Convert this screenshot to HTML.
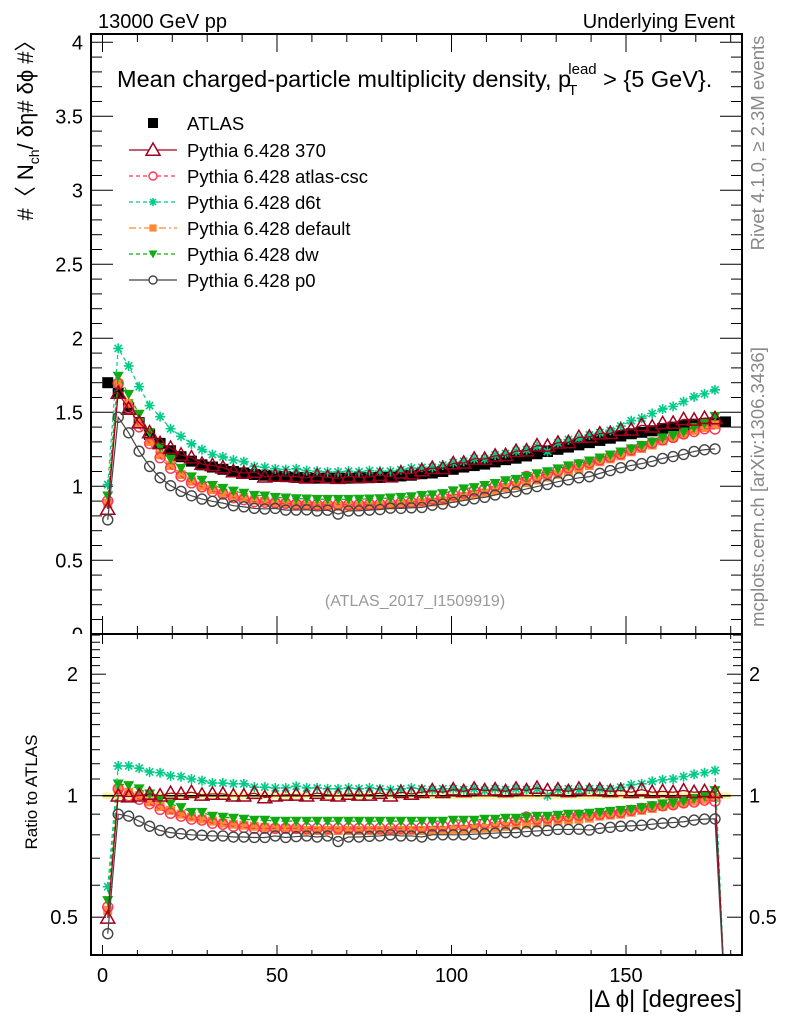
<!DOCTYPE html>
<html><head><meta charset="utf-8"><title>Mean charged-particle multiplicity density</title>
<style>
html,body{margin:0;padding:0;background:#fff;}
svg{display:block;font-family:"Liberation Sans",sans-serif;}
</style></head>
<body>
<svg id="chart" width="786" height="1024" viewBox="0 0 786 1024" xmlns="http://www.w3.org/2000/svg">
<defs>
<clipPath id="clipTop"><rect x="91" y="34" width="651" height="600"/></clipPath>
<clipPath id="clipBot"><rect x="91" y="635" width="651" height="320"/></clipPath>
<clipPath id="clipLabels"><rect x="0" y="0" width="91" height="634"/></clipPath>
</defs>
<rect x="0" y="0" width="786" height="1024" fill="#fff"/>
<text x="98" y="28" font-size="20">13000 GeV pp</text>
<text x="735" y="28" font-size="20" text-anchor="end">Underlying Event</text>
<text x="117" y="87" font-size="23.5">Mean charged-particle multiplicity density, p<tspan font-size="15" dx="-3" dy="8">T</tspan><tspan font-size="15" dx="-9" dy="-21">lead</tspan><tspan dy="13"> &gt; {5 GeV}.</tspan></text>
<text transform="translate(33,125) rotate(-90)" font-size="22" text-anchor="middle">#〈 N<tspan font-size="14" dy="6">ch</tspan><tspan dy="-6">/ δη# δϕ #〉</tspan></text>
<text transform="translate(37,792) rotate(-90)" font-size="17" text-anchor="middle">Ratio to ATLAS</text>
<text x="742" y="1007" font-size="24" text-anchor="end">|Δ ϕ| [degrees]</text>
<text transform="translate(764,143) rotate(-90)" font-size="18.5" fill="#888" text-anchor="middle">Rivet 4.1.0, ≥ 2.3M events</text>
<text transform="translate(764,487) rotate(-90)" font-size="18.5" fill="#888" text-anchor="middle">mcplots.cern.ch [arXiv:1306.3436]</text>
<text x="415" y="606" font-size="16" fill="#999" text-anchor="middle">(ATLAS_2017_I1509919)</text>
<g id="axes"></g>
<g id="axesClipped" clip-path="url(#clipLabels)"></g>
<g id="ratioBand" clip-path="url(#clipBot)"></g>
<g id="topMarks" clip-path="url(#clipTop)"></g>
<g id="botMarks" clip-path="url(#clipBot)"></g>
<g id="legend"></g>
<rect x="91" y="34" width="651" height="600" fill="none" stroke="#000" stroke-width="2"/>
<rect x="91" y="634" width="651" height="321" fill="none" stroke="#000" stroke-width="2"/>
</svg>
<script>
const binCenters=[1.5,4.5,7.5,10.5,13.5,16.5,19.5,22.5,25.5,28.5,31.5,34.5,37.5,40.5,43.5,46.5,49.5,52.5,55.5,58.5,61.5,64.5,67.5,70.5,73.5,76.5,79.5,82.5,85.5,88.5,91.5,94.5,97.5,100.5,103.5,106.5,109.5,112.5,115.5,118.5,121.5,124.5,127.5,130.5,133.5,136.5,139.5,142.5,145.5,148.5,151.5,154.5,157.5,160.5,163.5,166.5,169.5,172.5,175.5,178.5];
const atlasValues=[1.70,1.63,1.53,1.43,1.35,1.29,1.24,1.20,1.17,1.145,1.13,1.115,1.10,1.09,1.08,1.075,1.07,1.065,1.06,1.058,1.055,1.055,1.055,1.055,1.056,1.058,1.06,1.065,1.07,1.075,1.085,1.09,1.10,1.115,1.13,1.14,1.15,1.165,1.18,1.19,1.205,1.22,1.235,1.25,1.265,1.28,1.295,1.31,1.325,1.34,1.355,1.365,1.375,1.39,1.40,1.41,1.42,1.425,1.43,1.435];
const ratio370=[0.498,1.0,0.995,1.0,1.01,1.0,1.015,1.01,1.02,1.005,1.01,1.01,1.0,1.0,1.015,0.99,1.0,1.005,1.005,1.0,1.015,1.005,1.0,1.01,1.005,1.005,1.015,1.0,1.02,1.01,1.02,1.03,1.02,1.035,1.025,1.04,1.03,1.035,1.025,1.04,1.03,1.045,1.03,1.035,1.025,1.04,1.03,1.035,1.025,1.03,1.02,1.035,1.02,1.025,1.02,1.03,1.02,1.025,1.02];
const ratioCsc=[0.53,1.04,1.0,0.98,0.955,0.925,0.905,0.89,0.875,0.87,0.855,0.85,0.84,0.835,0.83,0.83,0.83,0.83,0.83,0.83,0.83,0.83,0.83,0.83,0.83,0.83,0.83,0.83,0.83,0.83,0.835,0.84,0.84,0.845,0.845,0.85,0.855,0.86,0.865,0.87,0.885,0.875,0.88,0.885,0.89,0.895,0.895,0.9,0.905,0.91,0.92,0.93,0.94,0.945,0.95,0.96,0.965,0.975,0.97];
const ratioD6t=[0.595,1.185,1.185,1.17,1.145,1.14,1.12,1.115,1.10,1.09,1.075,1.075,1.07,1.07,1.05,1.05,1.045,1.045,1.055,1.045,1.045,1.04,1.04,1.045,1.04,1.045,1.04,1.035,1.04,1.045,1.04,1.035,1.04,1.04,1.035,1.04,1.03,1.04,1.035,1.04,1.035,1.04,1.0,1.035,1.04,1.035,1.04,1.04,1.04,1.05,1.065,1.07,1.085,1.095,1.10,1.115,1.13,1.14,1.155];
const ratioDefault=[0.52,1.04,1.02,1.0,0.965,0.94,0.92,0.9,0.885,0.875,0.865,0.855,0.85,0.845,0.84,0.835,0.83,0.83,0.825,0.82,0.82,0.82,0.82,0.82,0.82,0.82,0.82,0.82,0.82,0.82,0.82,0.82,0.82,0.825,0.825,0.83,0.83,0.835,0.84,0.845,0.85,0.855,0.86,0.865,0.87,0.875,0.88,0.89,0.895,0.9,0.91,0.92,0.93,0.94,0.95,0.96,0.97,0.98,0.99];
const ratioDw=[0.55,1.07,1.06,1.04,1.01,0.98,0.955,0.935,0.91,0.91,0.89,0.885,0.88,0.875,0.87,0.87,0.865,0.865,0.865,0.865,0.865,0.865,0.865,0.865,0.865,0.865,0.865,0.865,0.865,0.865,0.865,0.865,0.865,0.87,0.87,0.87,0.875,0.875,0.88,0.88,0.885,0.89,0.89,0.895,0.9,0.9,0.905,0.91,0.915,0.92,0.925,0.935,0.945,0.955,0.96,0.97,0.985,1.0,1.03];
const ratioP0=[0.455,0.90,0.89,0.865,0.84,0.82,0.81,0.805,0.80,0.798,0.795,0.795,0.79,0.79,0.788,0.788,0.795,0.788,0.792,0.795,0.79,0.795,0.77,0.79,0.79,0.793,0.795,0.80,0.795,0.795,0.79,0.80,0.80,0.80,0.80,0.803,0.805,0.808,0.81,0.81,0.815,0.818,0.82,0.825,0.825,0.826,0.822,0.83,0.835,0.84,0.842,0.845,0.85,0.855,0.858,0.862,0.87,0.875,0.876];
const seriesNames=["Pythia 6.428 370","Pythia 6.428 atlas-csc","Pythia 6.428 d6t","Pythia 6.428 default","Pythia 6.428 dw","Pythia 6.428 p0"];
const yTickLabels=["0","0.5","1","1.5","2","2.5","3","3.5","4"];
const xTickLabels=["0","50","100","150"];
const ratioTickLabels=["0.5","1","2"];

const NS="http://www.w3.org/2000/svg";
const X0=102.5,XS=3.49;
function xs(v){return X0+v*XS;}
function ys(v){return 42.3+(4-v)*148;}
function yr(r){return 795.7-Math.log2(r)*121.5;}
function mk(tag,attrs,parent){const e=document.createElementNS(NS,tag);for(const k in attrs)e.setAttribute(k,attrs[k]);parent.appendChild(e);return e;}

const axesG=document.getElementById('axes');
const axesC=document.getElementById('axesClipped');
for(let i=0;i<=40;i++){const v=i/10;const y=ys(v);const major=i%5===0;const L=major?22:11;
 const t1=mk('line',{x1:91,x2:91+L,y1:y,y2:y,stroke:'#000','stroke-width':1},axesG);
 
 
 const t2=mk('line',{x1:742,x2:742-L,y1:y,y2:y,stroke:'#000','stroke-width':1},axesG);
 
 
}
yTickLabels.forEach(function(s){const v=parseFloat(s);const t=mk('text',{x:83,y:ys(v)+7,'font-size':20,'text-anchor':'end'},axesC);t.textContent=s;
 
 
});
for(let v=0;v<=180;v+=10){const major=v%50===0;
 const x=xs(v);
 const L1=major?18:8;
 const a=mk('line',{x1:x,x2:x,y1:34,y2:34+L1,stroke:'#000','stroke-width':1},axesG);
 
 
 const b=mk('line',{x1:x,x2:x,y1:634,y2:634-L1,stroke:'#000','stroke-width':1},axesG);
 
 
 const L2=major?10:5;
 const c=mk('line',{x1:x,x2:x,y1:634,y2:634+L2,stroke:'#000','stroke-width':1},axesG);
 
 
 const d=mk('line',{x1:x,x2:x,y1:955,y2:955-L2,stroke:'#000','stroke-width':1},axesG);
 
 
}
xTickLabels.forEach(function(s){const t=mk('text',{x:xs(parseFloat(s)),y:982,'font-size':20,'text-anchor':'middle'},axesG);t.textContent=s;
 
 
});
const rticks=[0.4,0.5,0.6,0.7,0.8,0.9,1,1.1,1.2,1.3,1.4,1.5,1.6,1.7,1.8,1.9,2,2.1,2.2,2.3,2.4,2.5];
rticks.forEach(function(r){const y=yr(r);if(y<635||y>955)return;const major=(r===0.5||r===1||r===2);const L=major?15:9;
 const a=mk('line',{x1:91,x2:91+L,y1:y,y2:y,stroke:'#000','stroke-width':1},axesG);
 
 
 const b=mk('line',{x1:742,x2:742-L,y1:y,y2:y,stroke:'#000','stroke-width':1},axesG);
 
 
});
ratioTickLabels.forEach(function(s){const r=parseFloat(s);
 const t=mk('text',{x:78,y:yr(r)+7,'font-size':20,'text-anchor':'end'},axesG);t.textContent=s;
 
 
 const t2=mk('text',{x:749,y:yr(r)+7,'font-size':20},axesG);t2.textContent=s;
 
 
});
const bandG=document.getElementById('ratioBand');
const br=mk('rect',{x:xs(0),y:yr(1.018),width:xs(180)-xs(0),height:yr(0.982)-yr(1.018),fill:'#f5f57a',opacity:0.8},bandG);


const bl=mk('line',{x1:xs(0),x2:xs(180),y1:yr(1),y2:yr(1),stroke:'#000','stroke-width':1.5},bandG);



function marker(type,cx,cy,color,parent,s){
 let e;
 if(type==='square'){e=mk('rect',{x:cx-s,y:cy-s,width:2*s,height:2*s,fill:color},parent);}
 else if(type==='tri'){e=mk('polygon',{points:(cx)+','+(cy-s)+' '+(cx-s)+','+(cy+s*0.75)+' '+(cx+s)+','+(cy+s*0.75),fill:'#fff','fill-opacity':0,stroke:color,'stroke-width':1.5},parent);}
 else if(type==='circle'){e=mk('circle',{cx:cx,cy:cy,r:s,fill:'none',stroke:color,'stroke-width':1.4},parent);}
 else if(type==='tridown'){e=mk('polygon',{points:(cx-s)+','+(cy-s*0.8)+' '+(cx+s)+','+(cy-s*0.8)+' '+cx+','+(cy+s),fill:color},parent);}
 else if(type==='star'){const d=s*0.72;e=mk('path',{d:'M'+(cx-s)+' '+cy+'H'+(cx+s)+'M'+cx+' '+(cy-s)+'V'+(cy+s)+'M'+(cx-d)+' '+(cy-d)+'L'+(cx+d)+' '+(cy+d)+'M'+(cx-d)+' '+(cy+d)+'L'+(cx+d)+' '+(cy-d),stroke:color,'stroke-width':1.6,fill:'none'},parent);}
 return e;
}
const styles=[
 {name:'pythia-370',color:'#a0001c',dash:'',m:'tri',s:7,ratio:ratio370},
 {name:'pythia-atlas-csc',color:'#ff3355',dash:'4,3',m:'circle',s:5,ratio:ratioCsc},
 {name:'pythia-d6t',color:'#00cc88',dash:'4,3',m:'star',s:5,ratio:ratioD6t},
 {name:'pythia-default',color:'#ff8833',dash:'7,3,2,3',m:'square',s:4.5,ratio:ratioDefault},
 {name:'pythia-dw',color:'#11aa11',dash:'4,3',m:'tridown',s:5.5,ratio:ratioDw},
 {name:'pythia-p0',color:'#444444',dash:'',m:'circle',s:5,ratio:ratioP0}
];
const topGroup=document.getElementById('topMarks');
const botGroup=document.getElementById('botMarks');
const ag=mk('g',{},topGroup);


atlasValues.forEach(function(v,i){const e=marker('square',xs(binCenters[i]),ys(v),'#000',ag,5.5);
 
 
});
const drawOrder=[3,1,4,2,0,5];
drawOrder.forEach(function(k){const st=styles[k];
 const gt=mk('g',{},topGroup);
 
 
 const gb=mk('g',{},botGroup);
 
 
 const ptsT=[],ptsB=[];
 st.ratio.forEach(function(r,i){const x=xs(binCenters[i]);ptsT.push([x,ys(r*atlasValues[i])]);ptsB.push([x,yr(r)]);});
 const last=st.ratio.length;
 const lt=mk('polyline',{points:ptsT.map(p=>p.join(',')).join(' '),fill:'none',stroke:st.color,'stroke-width':1.2,'stroke-dasharray':st.dash},gt);
 
 
 const pb=ptsB.slice();pb.push([xs(binCenters[last]),yr(0.3)]);
 const lb=mk('polyline',{points:pb.map(p=>p.join(',')).join(' '),fill:'none',stroke:st.color,'stroke-width':1.2,'stroke-dasharray':st.dash},gb);
 
 
 ptsT.forEach(function(p){const e=marker(st.m,p[0],p[1],st.color,gt,st.s);
  
  });
 ptsB.forEach(function(p){const e=marker(st.m,p[0],p[1],st.color,gb,st.s);
  
  });
});
const lg=document.getElementById('legend');
const rowY=[124,151,177,203,229,255,281];
const la=marker('square',153,rowY[0]-1,'#000',lg,5);


const lat=mk('text',{x:187,y:rowY[0]+6,'font-size':18.5},lg);lat.textContent='ATLAS';


styles.forEach(function(st,k){const y=rowY[k+1]-1;
 const l=mk('line',{x1:129,x2:177,y1:y,y2:y,stroke:st.color,'stroke-width':1.2,'stroke-dasharray':st.dash},lg);
 
 
 const m=marker(st.m,153,y,st.color,lg,st.m==='tri'?7:st.s*0.8);
 if(st.m==='circle'||st.m==='tri'){m.setAttribute('fill','#fff');m.setAttribute('fill-opacity','1');}
 
 
 const t=mk('text',{x:187,y:y+7,'font-size':18.5},lg);t.textContent=seriesNames[k];
 
 
});
</script>
</body></html>
